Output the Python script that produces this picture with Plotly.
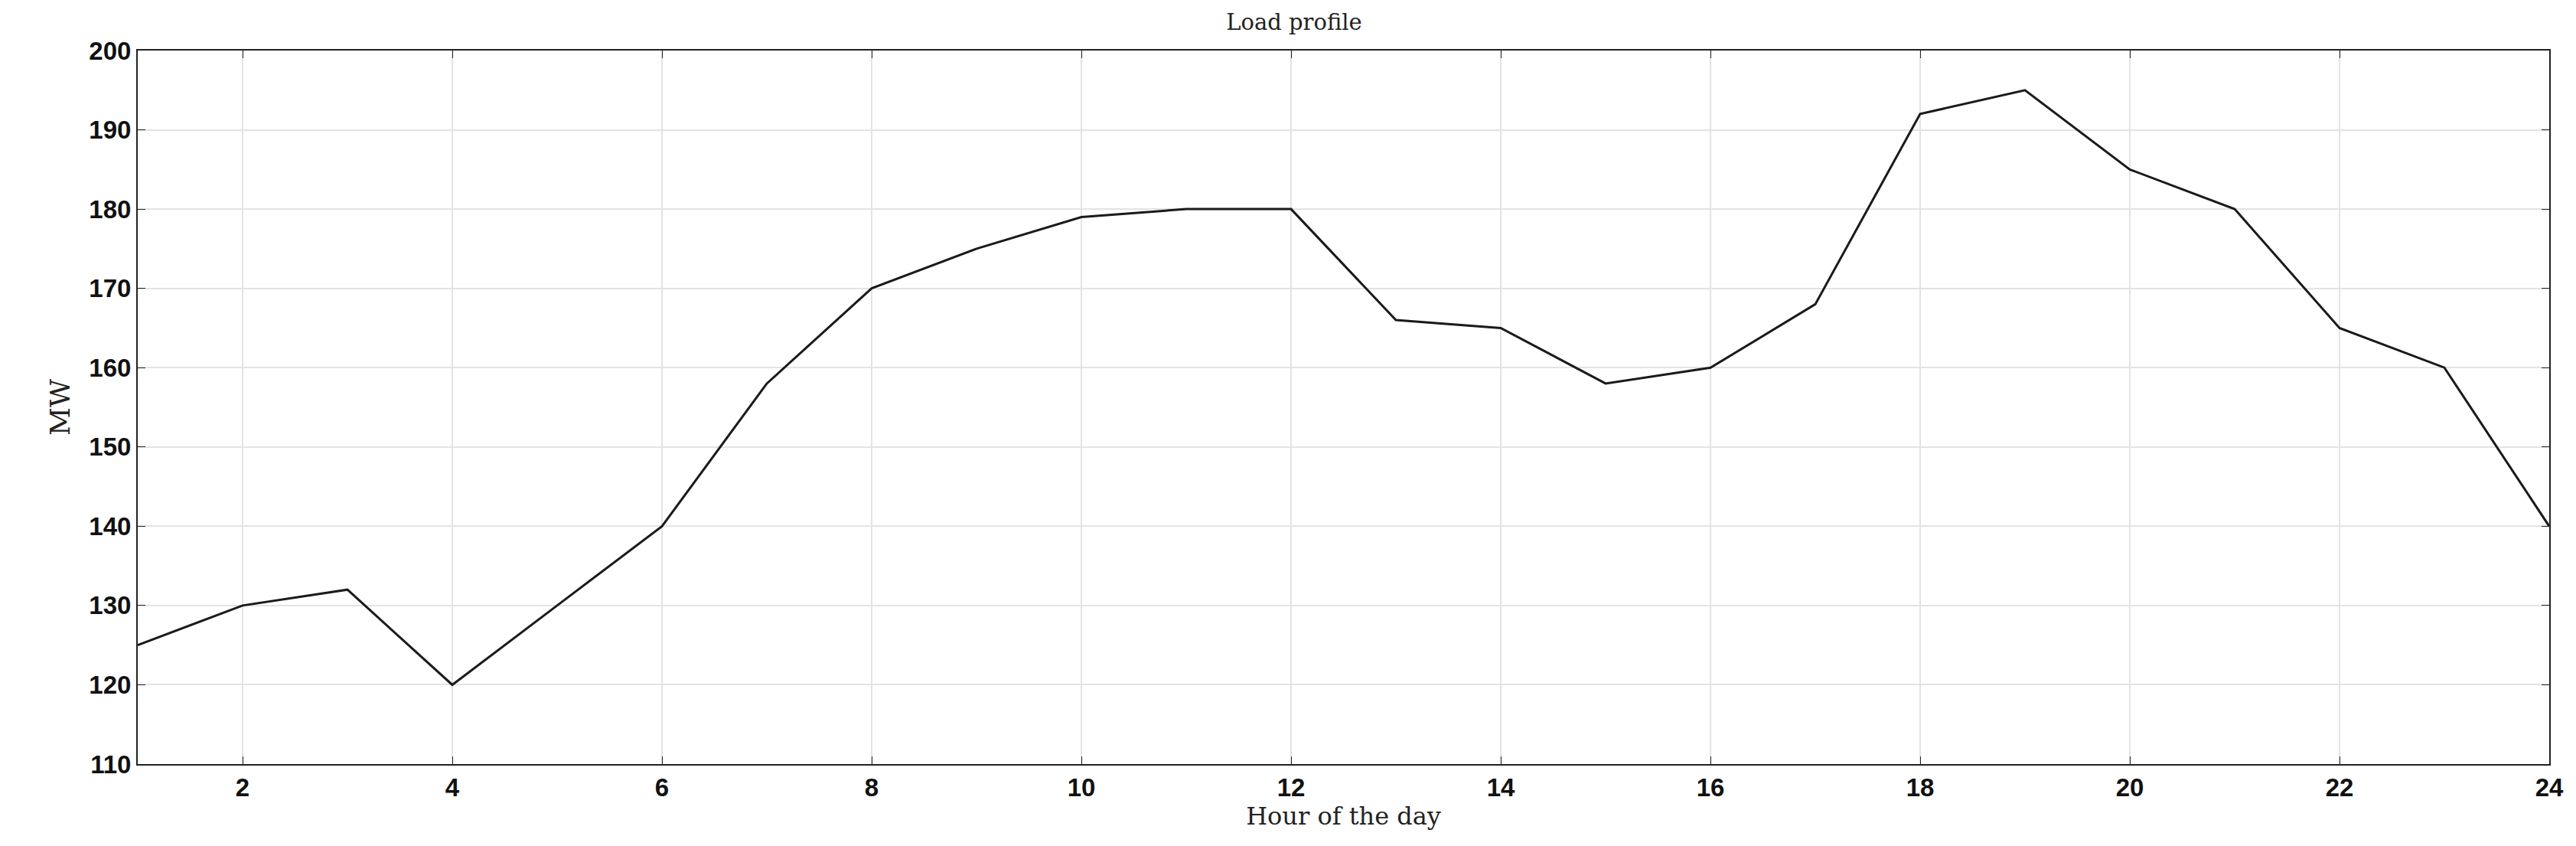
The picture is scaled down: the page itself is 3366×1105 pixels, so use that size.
import plotly.graph_objects as go

hours = list(range(1, 25))
load_mw = [125, 130, 132, 120, 130, 140, 158, 170, 175, 179, 180, 180,
           166, 165, 158, 160, 168, 192, 195, 185, 180, 165, 160, 140]
x_ticks = list(range(2, 25, 2))
y_ticks = list(range(110, 201, 10))

fig = go.Figure(go.Scatter(x=hours, y=load_mw, mode="lines",
                           line=dict(color="#1a1a1a", width=3)))
ax = dict(showline=True, linecolor="#222", linewidth=2, mirror="ticks",
          ticks="inside", ticklen=10, tickcolor="#222", showgrid=True,
          gridcolor="#e3e3e3", gridwidth=1.5, zeroline=False,
          tickfont=dict(family="Liberation Sans", size=33, color="#111", weight="bold"))
fig.update_xaxes(range=[1, 24], tickvals=x_ticks, **ax,
                 title=dict(text="Hour of the day", standoff=2,
                            font=dict(family="DejaVu Serif", size=32, color="#222")))
fig.update_yaxes(range=[110, 200], tickvals=y_ticks, **ax,
                 title=dict(text="MW", standoff=14,
                            font=dict(family="DejaVu Serif", size=36, color="#222")))
fig.update_layout(
    width=3366, height=1105, template="none",
    paper_bgcolor="white", plot_bgcolor="white", showlegend=False,
    margin=dict(l=172, r=43, t=58, b=115),
    title=dict(text="Load profile", x=0.5, xanchor="center", y=0.99, yanchor="top",
               font=dict(family="DejaVu Serif", size=29, color="#222")),
)
fig.write_html("out.html")
